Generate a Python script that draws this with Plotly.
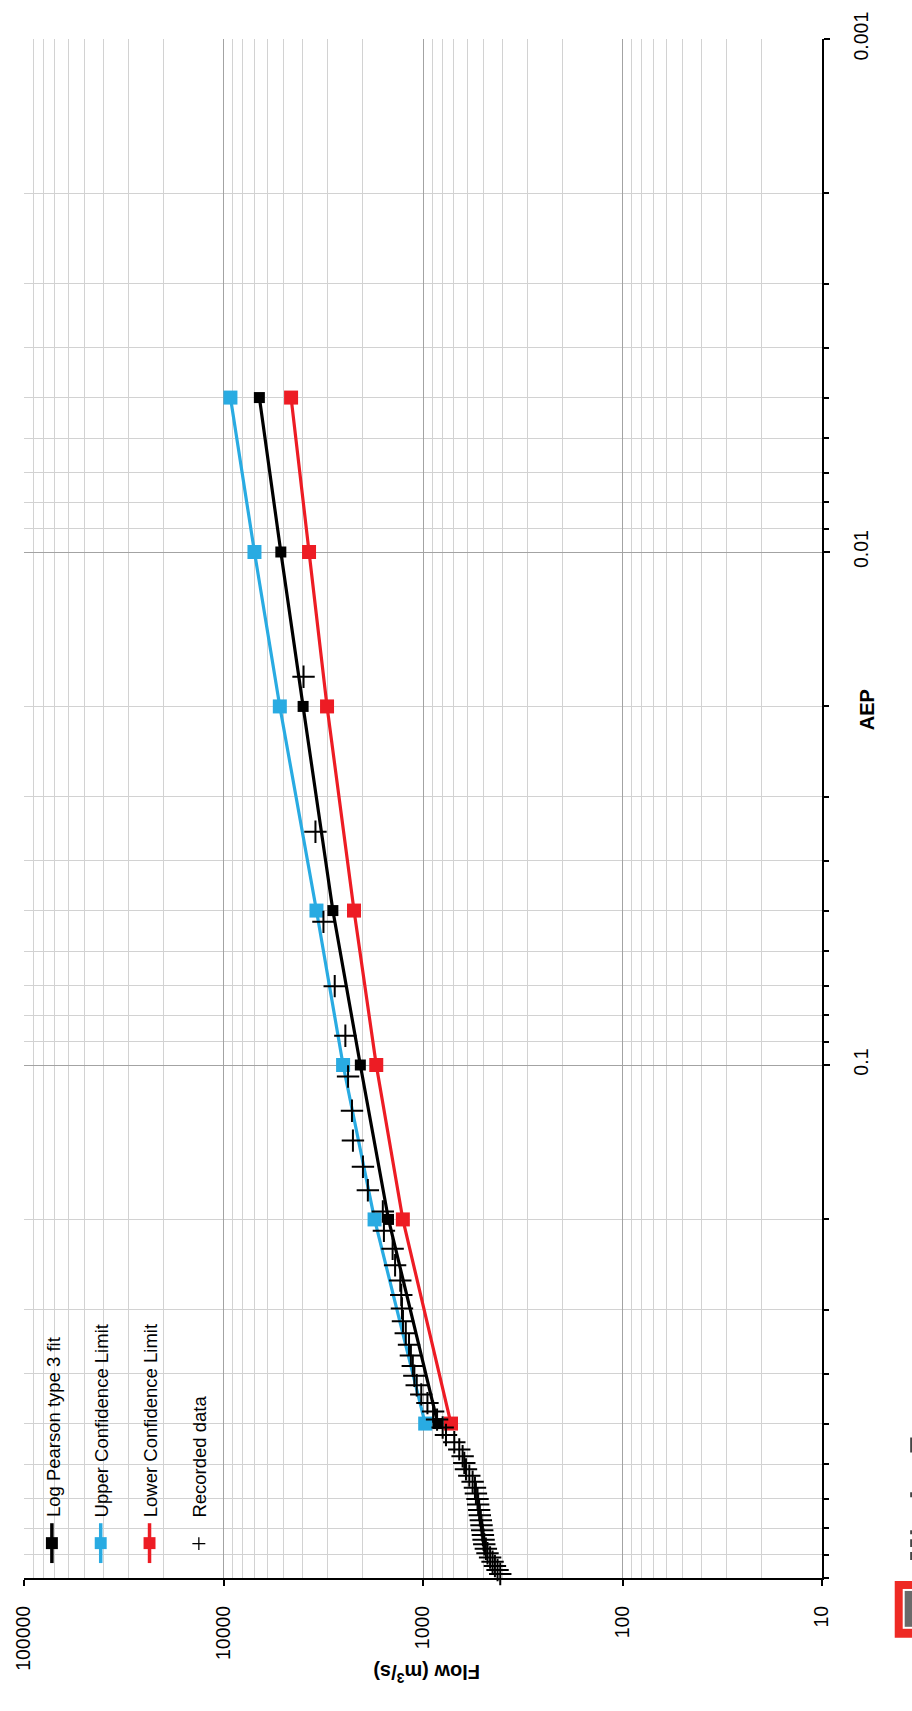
import plotly.graph_objects as go

# ---- Flood frequency data -------------------------------------------------
# Fitted quantiles (annual exceedance probability vs flow, m3/s)
aep_fit = [0.5, 0.2, 0.1, 0.05, 0.02, 0.01, 0.005]
lp3_flow = [843, 1489, 2061, 2830, 3990, 5160, 6610]
upper_flow = [975, 1749, 2515, 3420, 5220, 6995, 9230]
lower_flow = [724, 1262, 1715, 2217, 3027, 3726, 4584]

# Recorded annual maxima with their plotting positions
rec_aep = [0.0175, 0.0351, 0.0526, 0.0702, 0.0877, 0.1053, 0.1228, 0.1404,
           0.1579, 0.1754, 0.1930, 0.2105, 0.2281, 0.2456, 0.2632, 0.2807,
           0.2982, 0.3158, 0.3333, 0.3509, 0.3684, 0.3860, 0.4035, 0.4211,
           0.4386, 0.4561, 0.4737, 0.4912, 0.5088, 0.5263, 0.5439, 0.5614,
           0.5789, 0.5965, 0.6140, 0.6316, 0.6491, 0.6667, 0.6842, 0.7018,
           0.7193, 0.7368, 0.7544, 0.7719, 0.7895, 0.8070, 0.8246, 0.8421,
           0.8596, 0.8772, 0.8947, 0.9123, 0.9298, 0.9474, 0.9649, 0.9825]
rec_flow = [3970, 3460, 3155, 2770, 2450, 2375, 2270, 2245,
            2000, 1890, 1590, 1570, 1420, 1380, 1300, 1285,
            1275, 1260, 1220, 1175, 1150, 1125, 1105, 1075,
            1020, 950, 890, 850, 797, 767, 697, 658,
            633, 621, 609, 586, 564, 549, 543, 533,
            529, 523, 519, 513, 509, 505, 501, 497,
            493, 484, 475, 461, 448, 436, 423, 410]

# Axis ticks
flow_major = [100000, 10000, 1000, 100, 10]
flow_labels = ["100000", "10000", "1000", "100", "10"]
aep_major = [0.001, 0.01, 0.1]
aep_labels = ["0.001", "0.01", "0.1"]

flow_minor = [m * d for d in (10, 100, 1000, 10000) for m in range(2, 10)]
aep_minor = [m * d for d in (0.001, 0.01, 0.1) for m in range(2, 10)] + [1]

# ---- Styling ---------------------------------------------------------------
FONT = "Liberation Sans, Arial, sans-serif"
BLUE = "#29ABE2"
RED = "#ED1C24"
W, H = 912, 1711
L, R, T, B = 21, 822, 33, 1578


def px(x):
    return (x - L) / (R - L)


def py(y):
    return (B - y) / (B - T)


fig = go.Figure()

fig.add_trace(go.Scatter(
    x=lp3_flow, y=aep_fit, mode="lines+markers", name="Log Pearson type 3 fit",
    line=dict(color="black", width=3.2),
    marker=dict(symbol="square", size=11, color="black"), cliponaxis=False))
fig.add_trace(go.Scatter(
    x=upper_flow, y=aep_fit, mode="lines+markers", name="Upper Confidence Limit",
    line=dict(color=BLUE, width=3.2),
    marker=dict(symbol="square", size=14, color=BLUE), cliponaxis=False))
fig.add_trace(go.Scatter(
    x=lower_flow, y=aep_fit, mode="lines+markers", name="Lower Confidence Limit",
    line=dict(color=RED, width=3.2),
    marker=dict(symbol="square", size=14, color=RED), cliponaxis=False))
fig.add_trace(go.Scatter(
    x=rec_flow, y=rec_aep, mode="markers", name="Recorded data",
    marker=dict(symbol="cross-thin", size=16, color="black",
                line=dict(width=2, color="black")), cliponaxis=False))

shapes = []
annotations = []

# Legend panel drawn over the grid
shapes.append(dict(type="rect", xref="paper", yref="paper",
                   x0=px(22.5), x1=px(220.5), y0=py(1576), y1=py(1311),
                   fillcolor="white", line=dict(width=0), layer="between"))

legend_items = [("Log Pearson type 3 fit", "black", 49),
                ("Upper Confidence Limit", BLUE, 98),
                ("Lower Confidence Limit", RED, 147)]
for label, col, cx in legend_items:
    shapes.append(dict(type="line", xref="paper", yref="paper",
                       x0=px(cx), x1=px(cx), y0=py(1563), y1=py(1523),
                       line=dict(color=col, width=3.5)))
    shapes.append(dict(type="rect", xref="paper", yref="paper",
                       x0=px(cx - 6), x1=px(cx + 6), y0=py(1549), y1=py(1537),
                       fillcolor=col, line=dict(width=0)))
    annotations.append(dict(text=label, xref="paper", yref="paper",
                            x=px(cx + 1), y=py(1519), xanchor="center",
                            yanchor="bottom", textangle=-90, showarrow=False,
                            font=dict(family=FONT, size=18.5, color="black")))

# Recorded data legend symbol
shapes.append(dict(type="line", xref="paper", yref="paper",
                   x0=px(190), x1=px(203), y0=py(1543.5), y1=py(1543.5),
                   line=dict(color="black", width=1.3)))
shapes.append(dict(type="line", xref="paper", yref="paper",
                   x0=px(196.5), x1=px(196.5), y0=py(1550), y1=py(1537),
                   line=dict(color="black", width=1.3)))
annotations.append(dict(text="Recorded data", xref="paper", yref="paper",
                        x=px(197), y=py(1519), xanchor="center",
                        yanchor="bottom", textangle=-90, showarrow=False,
                        font=dict(family=FONT, size=18.5, color="black")))

# Axis titles
annotations.append(dict(text="<b>Flow (m<sup>3</sup>/s)</b>", xref="paper",
                        yref="paper", x=px(425), y=py(1674), xanchor="center",
                        yanchor="middle", textangle=180, showarrow=False,
                        font=dict(family=FONT, size=20, color="black")))
annotations.append(dict(text="<b>AEP</b>", xref="paper", yref="paper",
                        x=px(868), y=py(706), xanchor="center",
                        yanchor="middle", textangle=-90, showarrow=False,
                        font=dict(family=FONT, size=20, color="black")))

# Logo badge in the corner
shapes.append(dict(type="rect", xref="paper", yref="paper",
                   x0=px(895), x1=px(916), y0=py(1638), y1=py(1581),
                   fillcolor="#EE2A24", line=dict(width=0)))
shapes.append(dict(type="rect", xref="paper", yref="paper",
                   x0=px(903), x1=px(916), y0=py(1629), y1=py(1589),
                   fillcolor="white", line=dict(width=0)))
shapes.append(dict(type="rect", xref="paper", yref="paper",
                   x0=px(905), x1=px(916), y0=py(1627), y1=py(1591),
                   fillcolor="#6a6a6a", line=dict(width=0)))
for y0, y1 in [(1437, 1452), (1492, 1497), (1530, 1534), (1539, 1547), (1552, 1560)]:
    shapes.append(dict(type="rect", xref="paper", yref="paper",
                       x0=px(910.5), x1=px(914), y0=py(y1), y1=py(y0),
                       fillcolor="#444444", line=dict(width=0)))

fig.update_layout(
    width=W, height=H,
    margin=dict(l=L, r=W - R, t=T, b=H - B, pad=0),
    paper_bgcolor="white", plot_bgcolor="white",
    showlegend=False,
    font=dict(family=FONT, size=18.5, color="black"),
    shapes=shapes, annotations=annotations,
    xaxis=dict(
        type="log", range=[5, 1], side="bottom",
        tickmode="array", tickvals=flow_major, ticktext=flow_labels,
        tickangle=-90, ticks="outside", ticklen=6, tickwidth=2,
        tickcolor="black", ticklabelstandoff=12,
        showline=True, linecolor="black", linewidth=2,
        showgrid=True, gridcolor="#a3a3a3", gridwidth=1.2, zeroline=False,
        minor=dict(tickmode="array", tickvals=flow_minor, ticks="",
                   showgrid=True, gridcolor="#d2d2d2", gridwidth=1.2),
        tickfont=dict(family=FONT, size=19.5, color="black"),
    ),
    yaxis=dict(
        type="log", range=[0, -3], side="right",
        tickmode="array", tickvals=aep_major, ticktext=aep_labels,
        tickangle=-90, ticks="outside", ticklen=6, tickwidth=2,
        tickcolor="black", ticklabelstandoff=15,
        showline=True, linecolor="black", linewidth=2,
        showgrid=True, gridcolor="#a3a3a3", gridwidth=1.2, zeroline=False,
        minor=dict(tickmode="array", tickvals=aep_minor, ticks="outside",
                   ticklen=5, tickwidth=1.5, tickcolor="black",
                   showgrid=True, gridcolor="#d2d2d2", gridwidth=1.2),
        tickfont=dict(family=FONT, size=19.5, color="black"),
    ),
)

fig.write_html("out.html")
